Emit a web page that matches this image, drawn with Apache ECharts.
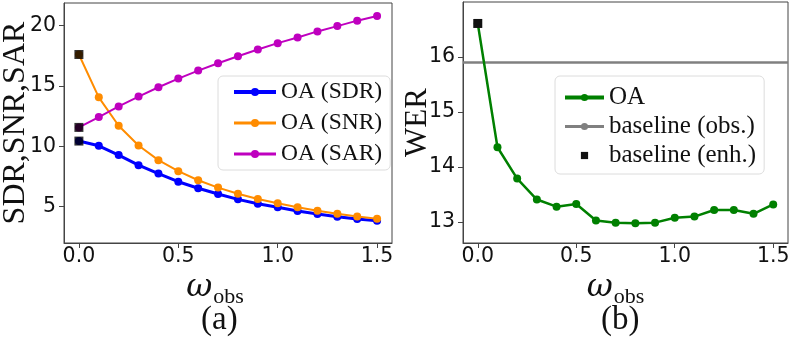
<!DOCTYPE html>
<html>
<head>
<meta charset="utf-8">
<script src="https://cdn.jsdelivr.net/npm/echarts@6/dist/echarts.min.js"></script>
<style>
  html, body { margin: 0; padding: 0; background: #fff; }
  #chart { width: 789px; height: 343px; }
</style>
</head>
<body>
<div id="chart"></div>
<script>
// ω_obs values shared by both panels
const wObs = [0, 0.1, 0.2, 0.3, 0.4, 0.5, 0.6, 0.7, 0.8, 0.9, 1.0, 1.1, 1.2, 1.3, 1.4, 1.5]

// (a) separation metrics
const sdr = [10.43, 10.04, 9.27, 8.44, 7.74, 7.07, 6.53, 6.05, 5.61, 5.25, 4.95, 4.64, 4.39, 4.17, 3.98, 3.84]
const snr = [17.59, 14.05, 11.70, 10.06, 8.85, 7.94, 7.19, 6.58, 6.08, 5.64, 5.28, 4.95, 4.67, 4.42, 4.20, 4.00]
const sar = [11.56, 12.42, 13.30, 14.11, 14.88, 15.60, 16.26, 16.87, 17.45, 18.00, 18.53, 19.00, 19.50, 19.94, 20.39, 20.77]
const sepBaseline = [10.43, 17.59, 11.56]

// (b) WER
const wer = [16.61, 14.36, 13.79, 13.41, 13.28, 13.33, 13.03, 12.99, 12.98, 12.99, 13.08, 13.10, 13.22, 13.22, 13.15, 13.32]
const werBaselineObs = 15.90
const werBaselineEnh = 16.61

const xTicks = [0, 0.5, 1.0, 1.5]
const leftYTicks = [5, 10, 15, 20]
const rightYTicks = [13, 14, 15, 16]

const serif = 'Liberation Serif'
const sans = 'DejaVu Sans'
const spine = '#444'

const chart = echarts.init(document.getElementById('chart'))

const pairs = ys => wObs.map((x, i) => [x, ys[i]])

const oaLine = (name, ys, color, width, grid) => ({
  name,
  type: 'line',
  xAxisIndex: grid,
  yAxisIndex: grid,
  data: pairs(ys),
  symbol: 'circle',
  symbolSize: 8,
  lineStyle: { color, width },
  itemStyle: { color },
  z: 3
})

const xAxisFor = (grid, shiftRight) => ({
  type: 'value',
  gridIndex: grid,
  min: -0.075,
  max: 1.575,
  splitLine: { show: false },
  axisLine: { show: true, onZero: false, lineStyle: { color: spine, width: 1 } },
  axisTick: { customValues: xTicks, length: 5, lineStyle: { color: spine } },
  axisLabel: {
    customValues: xTicks,
    formatter: v => v.toFixed(1),
    fontFamily: sans,
    fontSize: 20.5,
    color: '#111',
    margin: 3
  },
  name: '{w|ω}{s|obs}',
  nameLocation: 'middle',
  nameGap: 24,
  nameTextStyle: {
    padding: [0, shiftRight, 0, 0],
    rich: {
      w: { fontFamily: 'DejaVu Serif', fontStyle: 'italic', fontSize: 32, color: '#111', padding: [0, 1, 4, 0], verticalAlign: 'bottom' },
      s: { fontFamily: serif, fontSize: 22, color: '#111', verticalAlign: 'bottom' }
    }
  }
})

const yAxisFor = (grid, min, max, ticks, name, size, gap) => ({
  type: 'value',
  gridIndex: grid,
  min,
  max,
  splitLine: { show: false },
  axisLine: { show: true, onZero: false, lineStyle: { color: spine, width: 1 } },
  axisTick: { customValues: ticks, length: 5, lineStyle: { color: spine } },
  axisLabel: {
    customValues: ticks,
    fontFamily: sans,
    fontSize: 20.5,
    color: '#111',
    margin: 8
  },
  name,
  nameLocation: 'middle',
  nameGap: gap,
  nameMoveOverlap: false,
  nameTextStyle: { fontFamily: serif, fontSize: size, color: '#111' }
})

chart.setOption({
  animation: false,
  grid: [
    { left: 64, top: 3, width: 328, height: 240, show: true, borderColor: spine, borderWidth: 1, outerBoundsMode: 'none' },
    { left: 463, top: 2, width: 325, height: 241, show: true, borderColor: spine, borderWidth: 1, outerBoundsMode: 'none' }
  ],
  xAxis: [xAxisFor(0, 26), xAxisFor(1, 20)],
  yAxis: [
    yAxisFor(0, 2.0, 21.85, leftYTicks, 'SDR,SNR,SAR', 32, 32),
    yAxisFor(1, 12.62, 17.0, rightYTicks, 'WER', 31, 30)
  ],
  legend: [
    {
      data: [
        { name: 'OA (SDR)', lineStyle: { width: 4 } },
        { name: 'OA (SNR)', lineStyle: { width: 3 } },
        { name: 'OA (SAR)', lineStyle: { width: 3 } }
      ],
      orient: 'vertical',
      left: 218,
      top: 76,
      itemWidth: 42,
      itemHeight: 10,
      itemGap: 7,
      padding: [4, 8, 4, 14],
      backgroundColor: 'rgba(255,255,255,0.85)',
      borderColor: '#dcdcdc',
      borderWidth: 1,
      borderRadius: 5,
      textStyle: { fontFamily: serif, fontSize: 23.5, color: '#111', lineHeight: 24 }
    },
    {
      data: [
        { name: 'OA', lineStyle: { width: 4 } },
        { name: 'baseline (obs.)', lineStyle: { width: 3 } },
        { name: 'baseline (enh.)' }
      ],
      orient: 'vertical',
      left: 555,
      top: 76,
      itemWidth: 39,
      itemHeight: 9,
      itemGap: 4,
      padding: [9, 8, 6, 8],
      backgroundColor: 'rgba(255,255,255,0.85)',
      borderColor: '#dcdcdc',
      borderWidth: 1,
      borderRadius: 5,
      textStyle: { fontFamily: serif, fontSize: 25, color: '#111', lineHeight: 24 }
    }
  ],
  graphic: [
    { type: 'text', left: 201, top: 304, style: { text: '(a)', fontFamily: serif, fontSize: 33, fill: '#111' } },
    { type: 'text', left: 601, top: 304, style: { text: '(b)', fontFamily: serif, fontSize: 33, fill: '#111' } }
  ],
  series: [
    oaLine('OA (SDR)', sdr, '#0000ff', 3, 0),
    oaLine('OA (SNR)', snr, '#ff8c00', 2, 0),
    oaLine('OA (SAR)', sar, '#bf00bf', 2, 0),
    {
      name: 'baseline (a)',
      type: 'scatter',
      xAxisIndex: 0,
      yAxisIndex: 0,
      data: sepBaseline.map(v => [0, v]),
      symbol: 'rect',
      symbolSize: 9,
      itemStyle: { color: '#000' },
      z: 5
    },
    {
      name: 'baseline (obs.)',
      type: 'line',
      xAxisIndex: 1,
      yAxisIndex: 1,
      data: [[-0.075, werBaselineObs], [1.575, werBaselineObs]],
      symbol: 'none',
      lineStyle: { color: '#808080', width: 2.5 },
      itemStyle: { color: '#808080' },
      z: 2
    },
    oaLine('OA', wer, '#008000', 2.5, 1),
    {
      name: 'baseline (enh.)',
      type: 'line',
      xAxisIndex: 1,
      yAxisIndex: 1,
      data: [[0, werBaselineEnh]],
      symbol: 'rect',
      symbolSize: 9,
      lineStyle: { width: 0 },
      itemStyle: { color: '#111' },
      z: 5
    }
  ]
})
</script>
</body>
</html>
